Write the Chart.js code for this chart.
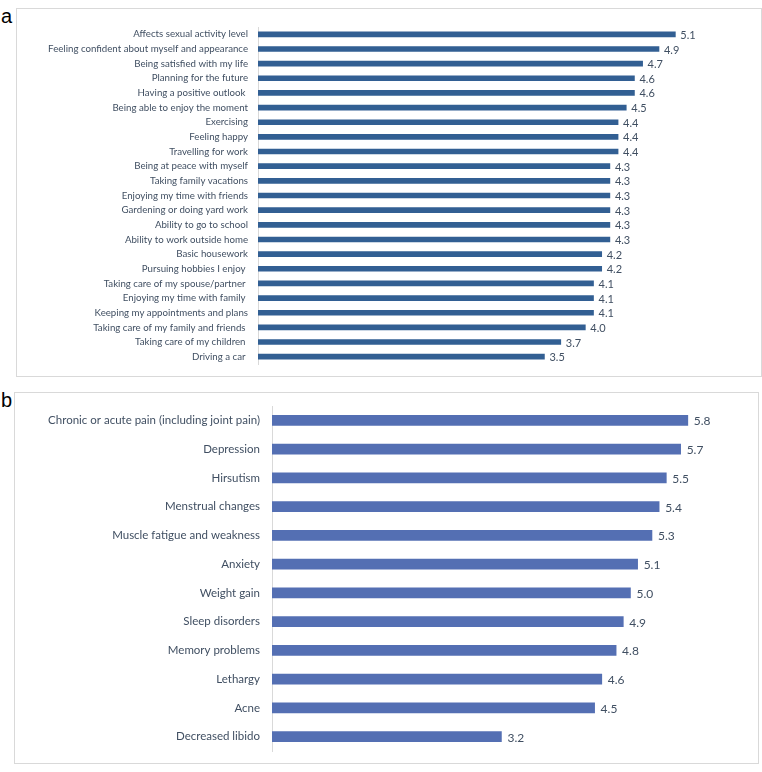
<!DOCTYPE html>
<html>
<head>
<meta charset="utf-8">
<script src="https://cdn.jsdelivr.net/npm/chart.js@4/dist/chart.umd.min.js"></script>
<style>
  body { margin: 0; background: #fff; width: 762px; height: 772px; position: relative; overflow: hidden; }
  .panel { position: absolute; border: 1px solid #d9d9d9; box-sizing: border-box; }
  .panel canvas { position: absolute; left: 0; top: 0; }
  .tag { position: absolute; font-family: "Liberation Sans", Arial, sans-serif; font-size: 20px; color: #000; }
</style>
</head>
<body>
<div class="tag" style="left:1px; top:5px;">a</div>
<div class="panel" style="left:16px; top:8px; width:746px; height:369px;"><canvas id="chartA"></canvas></div>
<div class="tag" style="left:1px; top:389px;">b</div>
<div class="panel" style="left:14px; top:392px; width:745px; height:372px;"><canvas id="chartB"></canvas></div>
<script>
const activityLabels = [
  'Affects sexual activity level',
  'Feeling confident about myself and appearance',
  'Being satisfied with my life',
  'Planning for the future',
  'Having a positive outlook ',
  'Being able to enjoy the moment',
  'Exercising',
  'Feeling happy',
  'Travelling for work',
  'Being at peace with myself',
  'Taking family vacations',
  'Enjoying my time with friends',
  'Gardening or doing yard work',
  'Ability to go to school',
  'Ability to work outside home',
  'Basic housework',
  'Pursuing hobbies I enjoy ',
  'Taking care of my spouse/partner ',
  'Enjoying my time with family ',
  'Keeping my appointments and plans',
  'Taking care of my family and friends ',
  'Taking care of my children ',
  'Driving a car '
];
const activityValues = [5.1, 4.9, 4.7, 4.6, 4.6, 4.5, 4.4, 4.4, 4.4, 4.3, 4.3, 4.3, 4.3, 4.3, 4.3, 4.2, 4.2, 4.1, 4.1, 4.1, 4.0, 3.7, 3.5];

const symptomLabels = [
  'Chronic or acute pain (including joint pain)',
  'Depression',
  'Hirsutism',
  'Menstrual changes',
  'Muscle fatigue and weakness',
  'Anxiety',
  'Weight gain',
  'Sleep disorders',
  'Memory problems',
  'Lethargy',
  'Acne',
  'Decreased libido'
];
const symptomValues = [5.8, 5.7, 5.5, 5.4, 5.3, 5.1, 5.0, 4.9, 4.8, 4.6, 4.5, 3.2];

const textColor = '#404f62';
const fontFamily = 'Lato, "Open Sans", sans-serif';

// draws the value just past the end of each bar
const valueLabels = {
  id: 'valueLabels',
  afterDatasetsDraw(chart, args, opts) {
    const ctx = chart.ctx;
    const meta = chart.getDatasetMeta(0);
    ctx.save();
    ctx.font = opts.size + 'px ' + fontFamily;
    ctx.fillStyle = textColor;
    ctx.textAlign = 'left';
    ctx.textBaseline = 'middle';
    meta.data.forEach((bar, i) => {
      const v = chart.data.datasets[0].data[i];
      ctx.fillText(v.toFixed(1), bar.x + opts.gap, bar.y + 1);
    });
    ctx.restore();
  }
};

function makeChart(id, w, h, labels, values, cfg) {
  const canvas = document.getElementById(id);
  canvas.width = w;
  canvas.height = h;
  canvas.style.width = w + 'px';
  canvas.style.height = h + 'px';
  return new Chart(canvas.getContext('2d'), {
    type: 'bar',
    data: {
      labels: labels,
      datasets: [{
        data: values,
        backgroundColor: cfg.color,
        barThickness: cfg.thickness,
        categoryPercentage: 1
      }]
    },
    options: {
      indexAxis: 'y',
      responsive: false,
      animation: false,
      layout: { padding: cfg.padding },
      plugins: {
        legend: { display: false },
        tooltip: { enabled: false },
        valueLabels: { size: cfg.valueSize, gap: cfg.gap }
      },
      scales: {
        x: { display: false, min: 0, max: cfg.max },
        y: {
          afterFit(scale) { scale.width = cfg.axisWidth; },
          grid: { display: false },
          border: { display: true, color: '#d9d9d9', width: 1 },
          ticks: {
            color: textColor,
            padding: cfg.tickPad,
            autoSkip: false,
            font: { family: fontFamily, size: cfg.labelSize }
          }
        }
      }
    },
    plugins: [valueLabels]
  });
}

makeChart('chartA', 744, 367, activityLabels, activityValues, {
  color: '#325f93',
  thickness: 5,
  max: 6,
  axisWidth: 241,
  padding: { top: 18, bottom: 12, left: 0, right: 12 },
  tickPad: 2,
  labelSize: 9.7,
  valueSize: 11,
  gap: 5
});

makeChart('chartB', 743, 370, symptomLabels, symptomValues, {
  color: '#546fb3',
  thickness: 10,
  max: 6.5,
  axisWidth: 257,
  padding: { top: 13, bottom: 12, left: 0, right: 20 },
  tickPad: 4,
  labelSize: 11.5,
  valueSize: 12,
  gap: 6
});
</script>
</body>
</html>
